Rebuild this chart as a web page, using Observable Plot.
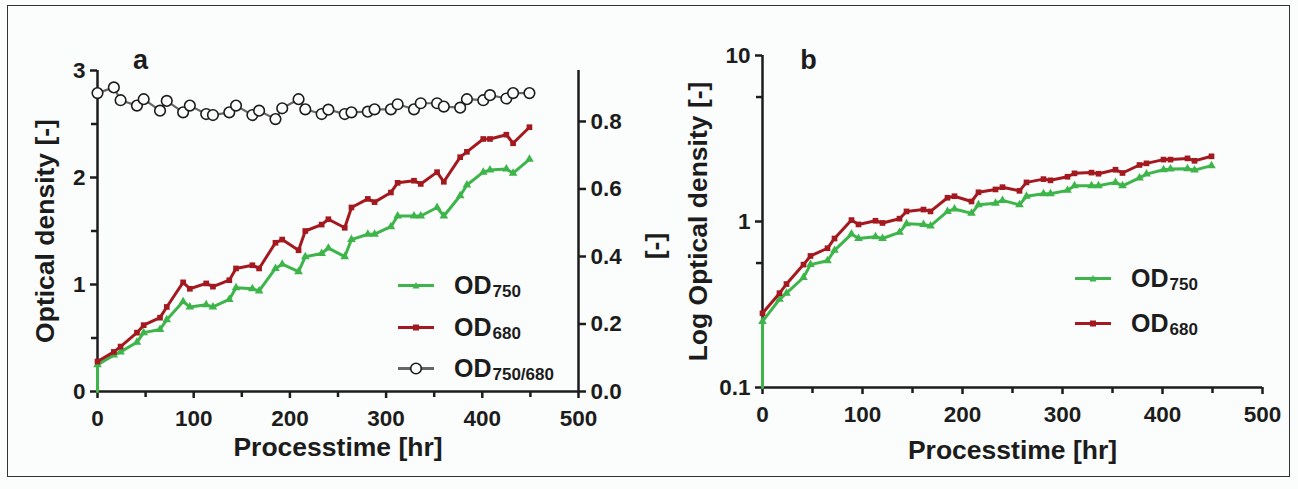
<!DOCTYPE html>
<html><head><meta charset="utf-8">
<script src="https://cdn.jsdelivr.net/npm/d3@7"></script>
<script src="https://cdn.jsdelivr.net/npm/@observablehq/plot@0.6"></script>
<style>
html,body{margin:0;padding:0;background:#fbfcfc;}
#fig{position:relative;width:1298px;height:489px;overflow:hidden;font-family:"Liberation Sans",Arial,sans-serif;}
#fig .layer{position:absolute;top:0;}
#frame{position:absolute;left:7px;top:5px;width:1283px;height:472px;border:1.5px solid #333;box-sizing:border-box}
.leg{position:absolute;display:flex;align-items:center;transform:translateY(-50%);font-weight:bold;color:#1c1c1c;font-size:25px;white-space:nowrap;line-height:1}
.leg .sub{font-size:17px;position:relative;top:6px;margin-left:1px}
.leg svg{margin-right:20px;overflow:visible}
</style></head><body>
<div id="fig"><div id="frame"></div></div>
<script>
// ---- data ----
const hours = [0, 17, 24, 41, 48, 65, 72, 89, 96, 113, 120, 137, 144, 161, 168, 185, 192, 209, 216, 233, 240, 257, 264, 281, 288, 305, 312, 329, 336, 353, 360, 377, 384, 401, 408, 425, 432, 449];
const od680 = [0.28, 0.37, 0.42, 0.55, 0.62, 0.69, 0.79, 1.02, 0.96, 1.01, 0.98, 1.04, 1.15, 1.18, 1.15, 1.39, 1.42, 1.32, 1.50, 1.56, 1.61, 1.53, 1.72, 1.80, 1.77, 1.86, 1.95, 1.97, 1.94, 2.05, 1.96, 2.19, 2.24, 2.36, 2.36, 2.40, 2.32, 2.47];
const od750 = [0.25, 0.34, 0.37, 0.46, 0.55, 0.58, 0.67, 0.84, 0.79, 0.81, 0.79, 0.86, 0.97, 0.96, 0.94, 1.15, 1.19, 1.12, 1.26, 1.29, 1.34, 1.26, 1.42, 1.47, 1.47, 1.54, 1.64, 1.64, 1.64, 1.72, 1.64, 1.83, 1.93, 2.05, 2.07, 2.08, 2.04, 2.17];
const od750Blank = 0; // OD750 line starts from 0 at t = 0
const ratio = [0.884, 0.901, 0.863, 0.847, 0.866, 0.832, 0.861, 0.827, 0.847, 0.822, 0.819, 0.827, 0.847, 0.819, 0.832, 0.807, 0.839, 0.866, 0.836, 0.822, 0.835, 0.822, 0.827, 0.829, 0.836, 0.836, 0.851, 0.836, 0.854, 0.854, 0.844, 0.841, 0.866, 0.863, 0.878, 0.868, 0.884, 0.884];

const xMajor = [0, 100, 200, 300, 400, 500];
const xMinor = [50, 150, 250, 350, 450];
const yMajorA = [0, 1, 2, 3];
const yMinorA = [0.5, 1.5, 2.5];
const yRightTicks = [0, 0.2, 0.4, 0.6, 0.8];
const yLogMajor = [0.1, 1, 10];
const yLogMinor = [0.562, 5.62];
const xTitle = "Processtime [hr]";
const yTitleA = "Optical density [-]";
const yTitleRight = "[-]";
const yTitleB = "Log Optical density [-]";
const panelA = "a", panelB = "b";

const GREEN = "#3db54a", RED = "#a3191f", INK = "#1c1c1c", GRAYLINE = "#666";

const rows = hours.map((h, i) => ({h, od750: od750[i], od680: od680[i], ratio: ratio[i]}));
const green = [{h: hours[0], v: od750Blank}, ...rows.map(d => ({h: d.h, v: d.od750}))];

const baseStyle = {background: "transparent", fontFamily: '"Liberation Sans", Arial, sans-serif', fontWeight: "bold", fontSize: "22.5px", color: INK, overflow: "visible"};
const fig = document.getElementById("fig");
function place(el, left) { el.classList.add("layer"); el.style.left = left + "px"; fig.appendChild(el); }
const title = (t, o) => Plot.text([t], {text: d => d, fontSize: 26.5, fontWeight: "bold", fill: INK, textAnchor: "middle", lineAnchor: "middle", ...o});

// ---- panel a (left axis) ----
const pa = Plot.plot({
  width: 680, height: 489, marginTop: 70, marginBottom: 98, marginLeft: 97, marginRight: 102,
  style: baseStyle,
  x: {domain: [0, 500], label: null},
  y: {domain: [0, 3], label: null},
  marks: [
    Plot.axisX({ticks: xMajor, tickSize: 7, tickPadding: 12, strokeWidth: 2.5, label: null, tickFormat: d => String(d)}),
    Plot.axisX({ticks: xMinor, tickSize: 6, strokeWidth: 2.5, label: null, tickFormat: () => ""}),
    Plot.axisY({ticks: yMajorA, tickSize: 7, tickPadding: 5, strokeWidth: 2.5, label: null, tickFormat: d => String(d)}),
    Plot.axisY({ticks: yMinorA, tickSize: 6, strokeWidth: 2.5, label: null, tickFormat: () => ""}),
    Plot.ruleY([0], {stroke: INK, strokeWidth: 2.5}),
    Plot.ruleX([0], {stroke: INK, strokeWidth: 2.5}),
    Plot.line(green, {x: "h", y: "v", stroke: GREEN, strokeWidth: 3}),
    Plot.dot(rows, {x: "h", y: "od750", symbol: "triangle", r: 3.2, fill: GREEN}),
    Plot.line(rows, {x: "h", y: "od680", stroke: RED, strokeWidth: 3}),
    Plot.dot(rows, {x: "h", y: "od680", symbol: "square", r: 3.2, fill: RED}),
    title(xTitle, {frameAnchor: "bottom", dy: 56}),
    title(yTitleA, {frameAnchor: "left", dx: -52, rotate: -90}),
    title(panelA, {frameAnchor: "top-left", dx: 43, dy: -10, fontSize: 27})
  ]
});
place(pa, 0);

// ---- panel a (right axis: OD750/680 ratio) ----
const pr = Plot.plot({
  width: 680, height: 489, marginTop: 70, marginBottom: 98, marginLeft: 97, marginRight: 102,
  style: baseStyle,
  x: {domain: [0, 500], axis: null, label: null},
  y: {domain: [0, 0.951], label: null},
  marks: [
    Plot.axisY({anchor: "right", ticks: yRightTicks, tickSize: 7, tickPadding: 5, strokeWidth: 2.5, label: null, tickFormat: d3.format(".1f")}),
    Plot.ruleX([500], {stroke: INK, strokeWidth: 2.5}),
    Plot.line(rows, {x: "h", y: "ratio", stroke: GRAYLINE, strokeWidth: 2.2}),
    Plot.dot(rows, {x: "h", y: "ratio", r: 5.3, stroke: INK, strokeWidth: 1.6, fill: "#fbfcfc"}),
    title(yTitleRight, {frameAnchor: "right", dx: 77, dy: 15, rotate: -90})
  ]
});
place(pr, 0);

// ---- panel b (log) ----
const logMin = 0.1;
const pb = Plot.plot({
  width: 638, height: 489, marginTop: 55, marginBottom: 102, marginLeft: 102, marginRight: 36,
  style: baseStyle,
  x: {domain: [0, 500], label: null},
  y: {type: "log", domain: [logMin, 10], label: null},
  marks: [
    Plot.axisX({ticks: xMajor, tickSize: 7, tickPadding: 12, strokeWidth: 2.5, label: null, tickFormat: d => String(d)}),
    Plot.axisX({ticks: xMinor, tickSize: 6, strokeWidth: 2.5, label: null, tickFormat: () => ""}),
    Plot.axisY({ticks: yLogMajor, tickSize: 7, tickPadding: 5, strokeWidth: 2.5, label: null, tickFormat: d => String(d)}),
    Plot.axisY({ticks: yLogMinor, tickSize: 6, strokeWidth: 2.5, label: null, tickFormat: () => ""}),
    Plot.ruleY([logMin], {stroke: INK, strokeWidth: 2.5}),
    Plot.ruleX([0], {stroke: INK, strokeWidth: 2.5}),
    Plot.line(green, {x: "h", y: d => Math.max(d.v, logMin), stroke: GREEN, strokeWidth: 3}),
    Plot.dot(rows, {x: "h", y: "od750", symbol: "triangle", r: 3.2, fill: GREEN}),
    Plot.line(rows, {x: "h", y: "od680", stroke: RED, strokeWidth: 3}),
    Plot.dot(rows, {x: "h", y: "od680", symbol: "square", r: 3.2, fill: RED}),
    title(xTitle, {frameAnchor: "bottom", dy: 63}),
    title(yTitleB, {frameAnchor: "left", dx: -64, rotate: -90}),
    title(panelB, {frameAnchor: "top-left", dx: 46, dy: 5, fontSize: 27})
  ]
});
place(pb, 660);

// ---- legends ----
const markers = {
  triangle: c => `<path d="M18,2.5 L21.5,9 L14.5,9 Z" fill="${c}"/>`,
  square: c => `<rect x="15" y="3" width="6" height="6" fill="${c}"/>`,
  circle: c => `<circle cx="18" cy="6" r="5.3" fill="#fbfcfc" stroke="${INK}" stroke-width="1.6"/>`
};
function legend(left, top, color, marker, main, sub) {
  const d = document.createElement("div");
  d.className = "leg";
  d.style.left = left + "px"; d.style.top = top + "px";
  d.innerHTML = `<svg width="36" height="12" viewBox="0 0 36 12"><line x1="0" y1="6" x2="36" y2="6" stroke="${color}" stroke-width="3"/>${markers[marker](color)}</svg><span>${main}</span><span class="sub">${sub}</span>`;
  fig.appendChild(d);
}
const legMain = "OD";
const legSubs = ["750", "680", "750/680"];
legend(398, 285, GREEN, "triangle", legMain, legSubs[0]);
legend(398, 327, RED, "square", legMain, legSubs[1]);
legend(398, 368, GRAYLINE, "circle", legMain, legSubs[2]);
legend(1075, 278, GREEN, "triangle", legMain, legSubs[0]);
legend(1075, 323, RED, "square", legMain, legSubs[1]);
</script>
</body></html>
